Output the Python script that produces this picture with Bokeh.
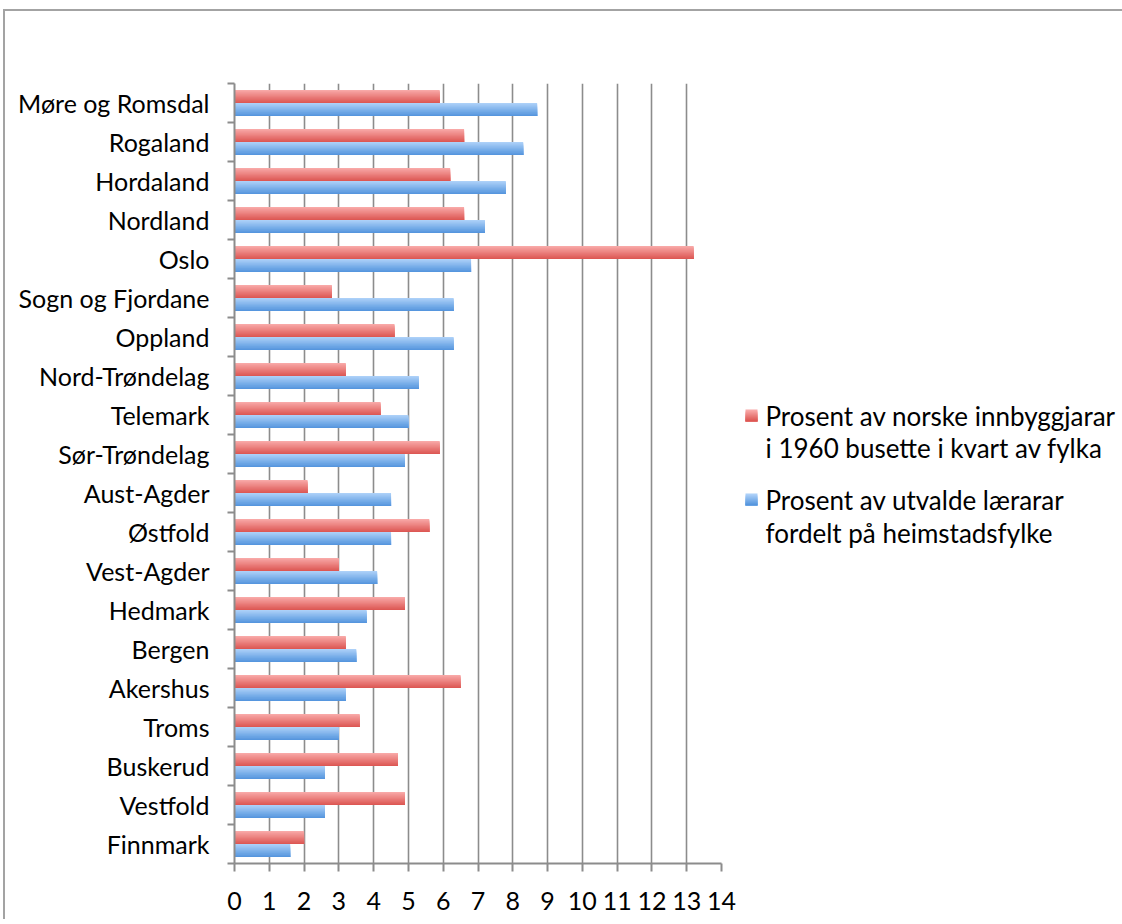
import numpy as np
from bokeh.plotting import figure
from bokeh.models import Range1d, FixedTicker, ColumnDataSource
from bokeh.layouts import row
from bokeh.embed import file_html
from bokeh.resources import INLINE
from bokeh.core.properties import value

# ---- data (top to bottom as in the chart) ----
fylke = ["Møre og Romsdal", "Rogaland", "Hordaland", "Nordland", "Oslo",
         "Sogn og Fjordane", "Oppland", "Nord-Trøndelag", "Telemark", "Sør-Trøndelag",
         "Aust-Agder", "Østfold", "Vest-Agder", "Hedmark", "Bergen",
         "Akershus", "Troms", "Buskerud", "Vestfold", "Finnmark"]
innbyggjarar = [5.9, 6.6, 6.2, 6.6, 13.2,
                2.8, 4.6, 3.2, 4.2, 5.9,
                2.1, 5.6, 3.0, 4.9, 3.2,
                6.5, 3.6, 4.7, 4.9, 2.0]
laerarar = [8.7, 8.3, 7.8, 7.2, 6.8,
            6.3, 6.3, 5.3, 5.0, 4.9,
            4.5, 4.5, 4.1, 3.8, 3.5,
            3.2, 3.0, 2.6, 2.6, 1.6]
x_ticks = list(range(0, 15))
legend_lines_red = ["Prosent av norske innbyggjarar", "i 1960 busette i kvart av fylka"]
legend_lines_blue = ["Prosent av utvalde lærarar", "fordelt på heimstadsfylke"]

FONT = "Lato"
FS = "25px"
LFS = "26px"
GRID = "#8c8c8c"
RED_TOP, RED_BOT = (248, 168, 167), (221, 88, 84)
BLUE_TOP, BLUE_BOT = (172, 208, 248), (86, 150, 222)

# page offsets (row has a border drawn around it)
OX, OY = 5, 11
H = 908
FH = 780


def mix(a, b, t):
    return "#%02x%02x%02x" % tuple(int(round(a[k] + (b[k] - a[k]) * t)) for k in range(3))


n = len(fylke)
centre = n - np.arange(n) - 0.5          # category slot centres, first at top
src = ColumnDataSource(dict(fylke=fylke, inn=innbyggjarar, lae=laerarar, yc=centre))

ml, mt = 234 - OX, 83 - OY
mb = H - mt - FH
mr = 20
p = figure(frame_width=487, frame_height=FH,
           x_range=Range1d(0, 14), y_range=Range1d(0, n),
           output_backend="svg", toolbar_location=None,
           min_border_left=ml, min_border_right=mr, min_border_top=mt,
           min_border_bottom=mb)
p.outline_line_color = None
p.background_fill_color = "white"
p.border_fill_color = "white"

# gradient bars: layered strips, each running from its top to the bar bottom
bar_h = 0.335
ns = 12


def draw(col, mid, top, bot):
    h = bar_h / ns
    bottom = mid - bar_h / 2
    for i in range(ns):
        t = i / (ns - 1)
        strip_top = mid + bar_h / 2 - h * i
        s = ColumnDataSource(dict(y=centre + (strip_top + bottom) / 2,
                                  right=src.data[col]))
        p.hbar(y="y", left=0, right="right", height=strip_top - bottom, source=s,
               fill_color=mix(top, bot, t), line_color=None)


draw("inn", bar_h / 2, RED_TOP, RED_BOT)
draw("lae", -bar_h / 2, BLUE_TOP, BLUE_BOT)

# x axis
xa = p.xaxis[0]
xa.ticker = FixedTicker(ticks=x_ticks)
xa.minor_tick_line_color = None
xa.major_tick_in = 0
xa.major_tick_out = 8
xa.axis_line_color = GRID
xa.axis_line_width = 2
xa.major_tick_line_color = GRID
xa.major_tick_line_width = 2
xa.major_label_text_font = FONT
xa.major_label_text_font_size = FS
xa.major_label_text_color = "black"
xa.major_label_standoff = 20

# y axis: labels at slot centres, tick marks (minor ticks) at slot edges
ya = p.yaxis[0]
ya.ticker = FixedTicker(ticks=list(centre), minor_ticks=list(range(n + 1)))
ya.major_label_overrides = {float(c): f for c, f in zip(centre, fylke)}
ya.major_tick_line_color = None
ya.major_tick_in = 0
ya.major_tick_out = 0
ya.minor_tick_in = 0
ya.minor_tick_out = 7
ya.minor_tick_line_color = GRID
ya.minor_tick_line_width = 2
ya.axis_line_color = GRID
ya.axis_line_width = 2
ya.major_label_text_font = FONT
ya.major_label_text_font_size = FS
ya.major_label_text_color = "black"
ya.major_label_standoff = 18

p.ygrid.visible = False
p.xgrid.ticker = FixedTicker(ticks=x_ticks[1:])
p.xgrid.grid_line_color = GRID
p.xgrid.grid_line_width = 1.6

# ---- legend panel (its frame is aligned with the chart frame by the row) ----
LW = 1117 - (ml + 487 + mr)
x0 = ml + 487 + mr + OX          # page x of the legend panel
top_pg, bot_pg = OY + mt, OY + mt + FH
leg = figure(frame_width=LW, frame_height=FH,
             x_range=Range1d(0, LW), y_range=Range1d(924 - bot_pg, 924 - top_pg),
             output_backend="svg", toolbar_location=None,
             x_axis_location=None, y_axis_location=None,
             min_border_left=0, min_border_right=0, min_border_top=mt, min_border_bottom=mb)
leg.grid.visible = False
leg.outline_line_color = None


def py(page_y):
    return 924 - page_y


def swatch(yc, top, bot):
    k = 6
    for i in range(k):
        t = i / (k - 1)
        ht = 12 - 2 * i
        leg.rect(x=[751 - x0], y=[yc - 6 + ht / 2], width=12, height=ht,
                 fill_color=mix(top, bot, t), line_color=None)


swatch(py(415), RED_TOP, RED_BOT)
swatch(py(499), BLUE_TOP, BLUE_BOT)
leg.text(x=[765 - x0] * 2, y=[py(415), py(447)], text=legend_lines_red, text_font=value(FONT),
         text_font_size=LFS, text_baseline="middle", text_color="black")
leg.text(x=[765 - x0] * 2, y=[py(499), py(532)], text=legend_lines_blue, text_font=value(FONT),
         text_font_size=LFS, text_baseline="middle", text_color="black")

layout = row(p, leg, styles={"border-top": "2px solid #a3a3a3",
                             "border-left": "2px solid #a3a3a3",
                             "margin-left": "3px", "margin-top": "9px"})
open("out.html", "w").write(file_html(layout, INLINE))
